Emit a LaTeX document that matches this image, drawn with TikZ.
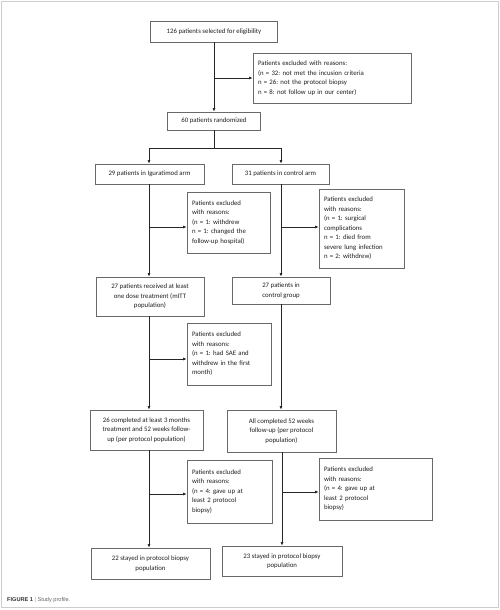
\documentclass[tikz,border=0pt]{standalone}
\usepackage{fontspec}
\setmainfont{Carlito}
\newfontfamily\capfont{Liberation Sans}
\usetikzlibrary{arrows.meta}
\frenchspacing

\definecolor{boxline}{RGB}{105,105,105}
\definecolor{boxtext}{RGB}{30,30,30}
\definecolor{framegray}{RGB}{205,205,205}

\tikzset{
flowbox/.style={draw=boxline, line width=0.8pt, align=center, inner sep=0pt,
  text=boxtext, font=\fontsize{6.8}{9.5}\selectfont},
exclbox/.style={draw=boxline, line width=0.8pt, align=left, inner xsep=5pt,
  inner ysep=0pt, text=boxtext, font=\fontsize{6.8}{9.5}\selectfont},
link/.style={draw=black!85, line width=0.7pt},
arr/.style={link, -{Latex[length=3.5pt,width=3pt]}}
}

\newcommand{\flowbox}[6]{%
\node[flowbox, minimum width=#4pt, minimum height=#5pt] (#1) at (#2,#3) {#6};
}
\newcommand{\exclbox}[6]{%
\node[exclbox, text width=#4pt, minimum height=#5pt] (#1) at (#2,#3) {#6};
}

\begin{document}
\begin{tikzpicture}[x=1pt, y=-1pt]

\useasboundingbox (0,0) rectangle (500,610);
\draw[framegray, line width=0.8pt] (1.5,1.5) rectangle (498.5,607.5);

\flowbox{elig}{214}{31.5}{127}{21}{126 patients selected for eligibility}
\exclbox{exTop}{332}{78}{148}{50}{Patients excluded with reasons:\\(n = 32: not met the incusion criteria\\n = 26: not the protocol biopsy\\n = 8: not follow up in our center)}
\flowbox{rand}{214}{121}{93}{18}{60 patients randomized}

\flowbox{armL}{149.5}{174}{109}{20}{29 patients in Iguratimod arm}
\flowbox{armR}{280.5}{174}{97}{20}{31 patients in control arm}

\exclbox{exL1}{228.5}{222.5}{73}{61}{Patients excluded\\with reasons:\\(n = 1: withdrew\\n = 1: changed the\\follow-up hospital)}
\exclbox{exR1}{361.5}{228.5}{75}{79}{Patients excluded\\with reasons:\\(n = 1: surgical\\complications\\n = 1: died from\\severe lung infection\\n = 2: withdrew)}

\flowbox{mitt}{150}{296.5}{108}{39}{27 patients received at least\\one dose treatment (mITT\\population)}
\flowbox{ctrl}{281}{290.5}{98}{27}{27 patients in\\control group}

\exclbox{exL2}{229}{354}{74}{62}{Patients excluded\\with reasons:\\(n = 1: had SAE and\\withdrew in the first\\month)}

\flowbox{compL}{146.5}{430}{113}{40}{26 completed at least 3 months\\treatment and 52 weeks follow-\\up (per protocol population)}
\flowbox{compR}{281.5}{431}{109}{42}{All completed 52 weeks\\follow-up (per protocol\\population)}

\exclbox{exL3}{229.5}{491.5}{75}{63}{Patients excluded\\with reasons:\\(n = 4: gave up at\\least 2 protocol\\biopsy)}
\exclbox{exR3}{375.5}{489}{103}{62}{Patients excluded\\with reasons:\\(n = 4: gave up at\\least 2 protocol\\biopsy)}

\flowbox{finL}{150.5}{563.5}{119}{31}{22 stayed in protocol biopsy\\population}
\flowbox{finR}{282}{561}{120}{30}{23 stayed in protocol biopsy\\population}

\coordinate (bTop) at (214,78);
\coordinate (split) at (214,148);
\coordinate (splitL) at (149,148);
\coordinate (splitR) at (281,148);
\coordinate (bL1) at (149,227);
\coordinate (bR1) at (281,227);
\coordinate (bL2) at (149,359);
\coordinate (bL3) at (149,494);
\coordinate (bR3) at (282,492);

\draw[arr] (elig.south) -- (rand.north);
\draw[arr] (bTop) -- (bTop -| exTop.west);
\draw[link] (rand.south) -- (split);
\draw[link] (splitL) -- (splitR);
\draw[arr] (splitL) -- (splitL |- armL.north);
\draw[arr] (splitR) -- (splitR |- armR.north);

\draw[arr] (armL.south -| bL1) -- (bL1 |- mitt.north);
\draw[arr] (bL1) -- (bL1 -| exL1.west);
\draw[arr] (armR.south -| bR1) -- (bR1 |- ctrl.north);
\draw[arr] (bR1) -- (bR1 -| exR1.west);

\draw[arr] (mitt.south -| bL2) -- (bL2 |- compL.north);
\draw[arr] (bL2) -- (bL2 -| exL2.west);
\draw[arr] (ctrl.south -| bR1) -- (bR1 |- compR.north);

\draw[arr] (compL.south -| bL3) -- (bL3 |- finL.north);
\draw[arr] (bL3) -- (bL3 -| exL3.west);
\draw[arr] (compR.south -| bR3) -- (bR3 |- finR.north);
\draw[arr] (bR3) -- (bR3 -| exR3.west);

\node[anchor=west, inner sep=0pt, font=\capfont\fontsize{5.6}{6.5}\selectfont, text=black!80] (caption) at (7,600) {\textbf{FIGURE 1} {\color{black!40}|} {\color{black!60}Study profile.}};

\end{tikzpicture}
\end{document}
